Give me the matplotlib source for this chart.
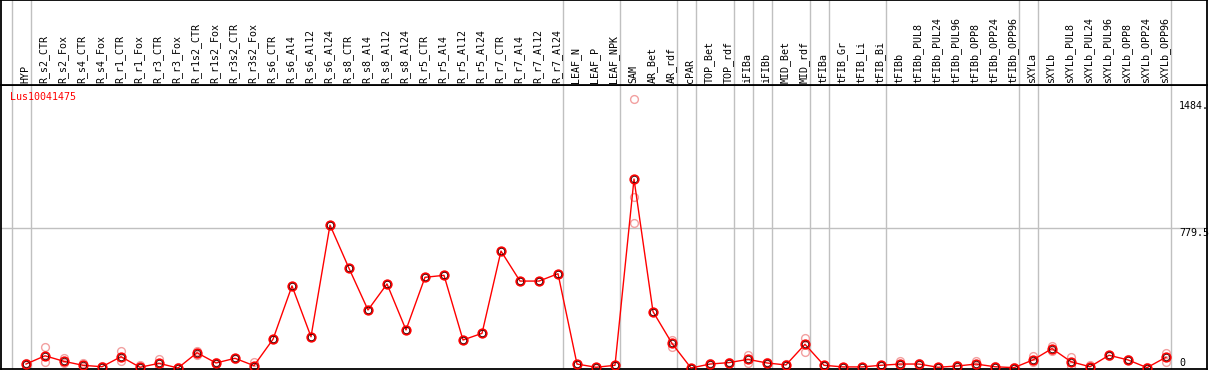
import matplotlib
matplotlib.use("Agg")
import matplotlib.pyplot as plt
from numpy import arange

samples = ["HYP", "R_s2_CTR", "R_s2_Fox", "R_s4_CTR", "R_s4_Fox", "R_r1_CTR", "R_r1_Fox",
           "R_r3_CTR", "R_r3_Fox", "R_r1s2_CTR", "R_r1s2_Fox", "R_r3s2_CTR", "R_r3s2_Fox",
           "R_s6_CTR", "R_s6_Al4", "R_s6_Al12", "R_s6_Al24", "R_s8_CTR", "R_s8_Al4",
           "R_s8_Al12", "R_s8_Al24", "R_r5_CTR", "R_r5_Al4", "R_r5_Al12", "R_r5_Al24",
           "R_r7_CTR", "R_r7_Al4", "R_r7_Al12", "R_r7_Al24", "LEAF_N", "LEAF_P", "LEAF_NPK",
           "SAM", "AR_Bet", "AR_rdf", "cPAR", "TOP_Bet", "TOP_rdf", "iFIBa", "iFIBb",
           "MID_Bet", "MID_rdf", "tFIBa", "tFIB_Gr", "tFIB_Li", "tFIB_Bi", "tFIBb",
           "tFIBb_PUL8", "tFIBb_PUL24", "tFIBb_PUL96", "tFIBb_OPP8", "tFIBb_OPP24",
           "tFIBb_OPP96", "sXYLa", "sXYLb", "sXYLb_PUL8", "sXYLb_PUL24", "sXYLb_PUL96",
           "sXYLb_OPP8", "sXYLb_OPP24", "sXYLb_OPP96"]

means = [22, 68, 37, 15, 7, 63, 4, 26, 0, 85, 28, 54, 13, 160, 457, 174, 796, 555, 323,
         468, 212, 505, 516, 156, 193, 651, 484, 484, 525, 22, 4, 15, 1052, 314, 137, 0,
         22, 30, 48, 28, 17, 132, 15, 6, 6, 15, 22, 22, 4, 11, 22, 7, 2, 45, 108, 35, 7,
         71, 45, 2, 60]

rep_hi = [28, 115, 57, 26, 10, 95, 15, 50, 7, 96, 32, 58, 33, 160, 457, 174, 796, 555, 323,
          468, 212, 505, 516, 156, 193, 651, 484, 484, 525, 25, 6, 18, 1500, 314, 156, 2,
          26, 35, 72, 35, 20, 165, 17, 8, 8, 17, 41, 28, 6, 14, 41, 10, 4, 67, 122, 63, 15,
          75, 48, 4, 85]

rep_lo = [15, 32, 26, 7, 4, 37, 2, 4, 0, 71, 24, 50, 7, 160, 457, 174, 796, 555, 323,
          468, 212, 505, 516, 156, 193, 651, 484, 484, 525, 20, 2, 12, 805, 314, 119, 0,
          18, 26, 26, 22, 14, 91, 13, 4, 4, 13, 15, 18, 2, 8, 10, 4, 0, 35, 96, 11, 2,
          67, 42, 0, 35]

extra_reps = {"SAM": [950]}

# group separators: line after these sample positions
group_ends = [-1, 0, 28, 31, 34, 35, 37, 38, 39, 41, 42, 45, 52, 53, 60]
ylabels = [(1484, "1484."), (779.5, "779.5"), (0, "0")]

W, H = 1209, 370
fig = plt.figure(figsize=(W / 100, H / 100), dpi=100)

# pixel layout
x_left, x_right = 1, 1207
y_top, y_head, y_bot = 0, 85, 369
ax = fig.add_axes([x_left / W, (H - y_bot) / H, (x_right - x_left) / W, (y_bot - y_head) / H])
hx = fig.add_axes([x_left / W, (H - y_head) / H, (x_right - x_left) / W, (y_head - y_top) / H])

step = 19.0
x0 = 26.0
xlim = ((x_left - x0) / step, (x_right - x0) / step)
per_px = 779.5 / (368 - 228)
ylim = ((368 - y_bot) * per_px, (368 - y_head) * per_px)

ind = arange(len(samples))
grey = "#c0c0c0"
red = "#ff0000"
pink = "#f2a0a0"

for a in (ax, hx):
    a.set_xlim(xlim)
    a.set_xticks([])
    a.set_yticks([])
    for g in group_ends:
        a.axvline(g + 4.5 / step, color=grey, lw=1.0, zorder=1)
    for s in a.spines.values():
        s.set_color("black")
        s.set_linewidth(1.3)
ax.set_ylim(ylim)
ax.axhline(779.5, color=grey, lw=1.0, zorder=1)

# replicates
ax.plot(ind, rep_hi, "o", ms=5.6, mfc="none", mec=pink, mew=1.0, ls="none", zorder=2)
ax.plot(ind, rep_lo, "o", ms=5.6, mfc="none", mec=pink, mew=1.0, ls="none", zorder=2)
for name, vals in extra_reps.items():
    i = samples.index(name)
    ax.plot([i] * len(vals), vals, "o", ms=5.6, mfc="none", mec=pink, mew=1.0, ls="none", zorder=2)

# means
ax.plot(ind, means, color=red, lw=1.0, zorder=3)
ax.plot(ind, means, "o", ms=6.2, mfc="none", mec=red, mew=1.2, ls="none", zorder=4)
ax.plot(ind, means, "o", ms=4.6, mfc="none", mec="#400000", mew=0.6, ls="none", zorder=5)

mono = "DejaVu Sans Mono"
ax.text((10 - x_left) / (x_right - x_left), (y_bot - 97) / (y_bot - y_head), "Lus10041475",
        color=red, fontsize=7.2, family=mono, va="center", ha="left", transform=ax.transAxes)

tx = ax.get_yaxis_transform()
lab_x = (1179 - x_left) / (x_right - x_left)
for val, txt in ylabels:
    va = "bottom" if val == 0 else "top"
    ax.text(lab_x, val, txt, fontsize=7.2, family=mono, va=va, ha="left",
            transform=tx, clip_on=False)

htx = hx.get_xaxis_transform()
for i, name in enumerate(samples):
    hx.text(i - 1 / step, (y_head - 83) / (y_head - y_top), name, rotation=90,
            fontsize=7.2, family=mono, va="bottom", ha="center", transform=htx)

plt.savefig("out.png", dpi=100)
